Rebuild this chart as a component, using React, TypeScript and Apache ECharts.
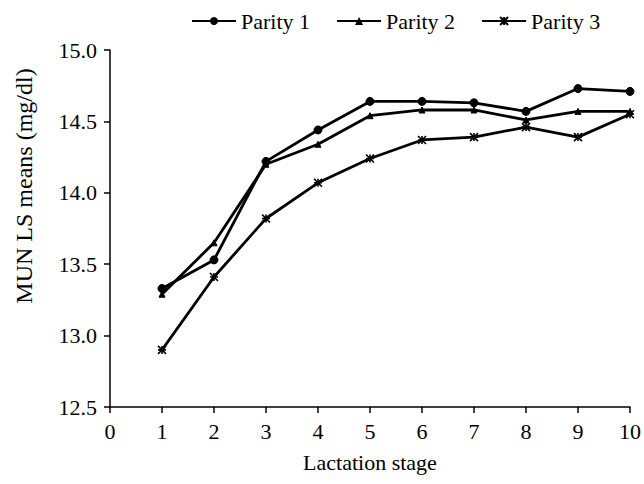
import React, { useEffect, useRef } from "react";
import * as echarts from "echarts";

const stages = [1, 2, 3, 4, 5, 6, 7, 8, 9, 10];
const parity1 = [13.33, 13.53, 14.22, 14.44, 14.64, 14.64, 14.63, 14.57, 14.73, 14.71];
const parity2 = [13.29, 13.65, 14.2, 14.34, 14.54, 14.58, 14.58, 14.51, 14.57, 14.57];
const parity3 = [12.9, 13.41, 13.82, 14.07, 14.24, 14.37, 14.39, 14.46, 14.39, 14.55];
const seriesNames = ["Parity 1", "Parity 2", "Parity 3"];
const yTitle = "MUN LS means (mg/dl)";
const xTitle = "Lactation stage";

const FONT = "Liberation Serif";
const FS = 22;
const starPath = "path://M0,0L10,10M10,0L0,10M5,0L5,10M0,5L10,5";

export default function App() {
  const ref = useRef<HTMLDivElement>(null);
  useEffect(() => {
    if (!ref.current) return;
    document.body.style.margin = "0";
    const chart = echarts.init(ref.current, null, { renderer: "svg" });
    const mk = (vals: number[]) => stages.map((s, i) => [s, vals[i]]);
    const base = {
      type: "line",
      lineStyle: { color: "#000", width: 2.8 },
      itemStyle: { color: "#000", borderColor: "#000" },
      showSymbol: true,
    };
    chart.setOption({
      animation: false,
      backgroundColor: "#fff",
      textStyle: { fontFamily: FONT },
      legend: {
        top: 5,
        left: 186,
        itemWidth: 44,
        itemHeight: 10,
        itemGap: 26,
        textStyle: { fontFamily: FONT, fontSize: FS, color: "#000" },
        data: seriesNames,
      },
      graphic: [
        {
          type: "text",
          x: 24,
          y: 186,
          rotation: Math.PI / 2,
          style: {
            text: yTitle,
            fontFamily: FONT,
            fontSize: 24,
            fill: "#000",
            textAlign: "center",
            textVerticalAlign: "middle",
          },
        },
      ],
      grid: { left: 110, right: 11, top: 50, bottom: 77 },
      xAxis: {
        type: "value",
        min: 0,
        max: 10,
        interval: 1,
        name: xTitle,
        nameLocation: "middle",
        nameGap: 44,
        nameTextStyle: { fontFamily: FONT, fontSize: FS, color: "#000" },
        axisLine: { lineStyle: { color: "#000", width: 1.5 } },
        axisTick: { show: true, length: 6, lineStyle: { color: "#000", width: 1.5 } },
        axisLabel: { fontFamily: FONT, fontSize: FS, color: "#000", margin: 13 },
        splitLine: { show: false },
      },
      yAxis: {
        type: "value",
        min: 12.5,
        max: 15,
        interval: 0.5,
        axisLine: { show: true, lineStyle: { color: "#000", width: 1.5 } },
        axisTick: { show: true, length: 6, lineStyle: { color: "#000", width: 1.5 } },
        axisLabel: {
          fontFamily: FONT,
          fontSize: FS,
          color: "#000",
          margin: 13,
          formatter: (v: number) => v.toFixed(1),
        },
        splitLine: { show: false },
      },
      series: [
        { ...base, name: seriesNames[0], data: mk(parity1), symbol: "circle", symbolSize: 8 },
        { ...base, name: seriesNames[1], data: mk(parity2), symbol: "triangle", symbolSize: 6 },
        {
          ...base,
          name: seriesNames[2],
          data: mk(parity3),
          symbol: starPath,
          symbolSize: 8,
          itemStyle: { color: "#000", borderColor: "#000", borderWidth: 1.6 },
        },
      ],
    });
    return () => chart.dispose();
  }, []);
  return <div ref={ref} style={{ width: 644, height: 484 }} />;
}
